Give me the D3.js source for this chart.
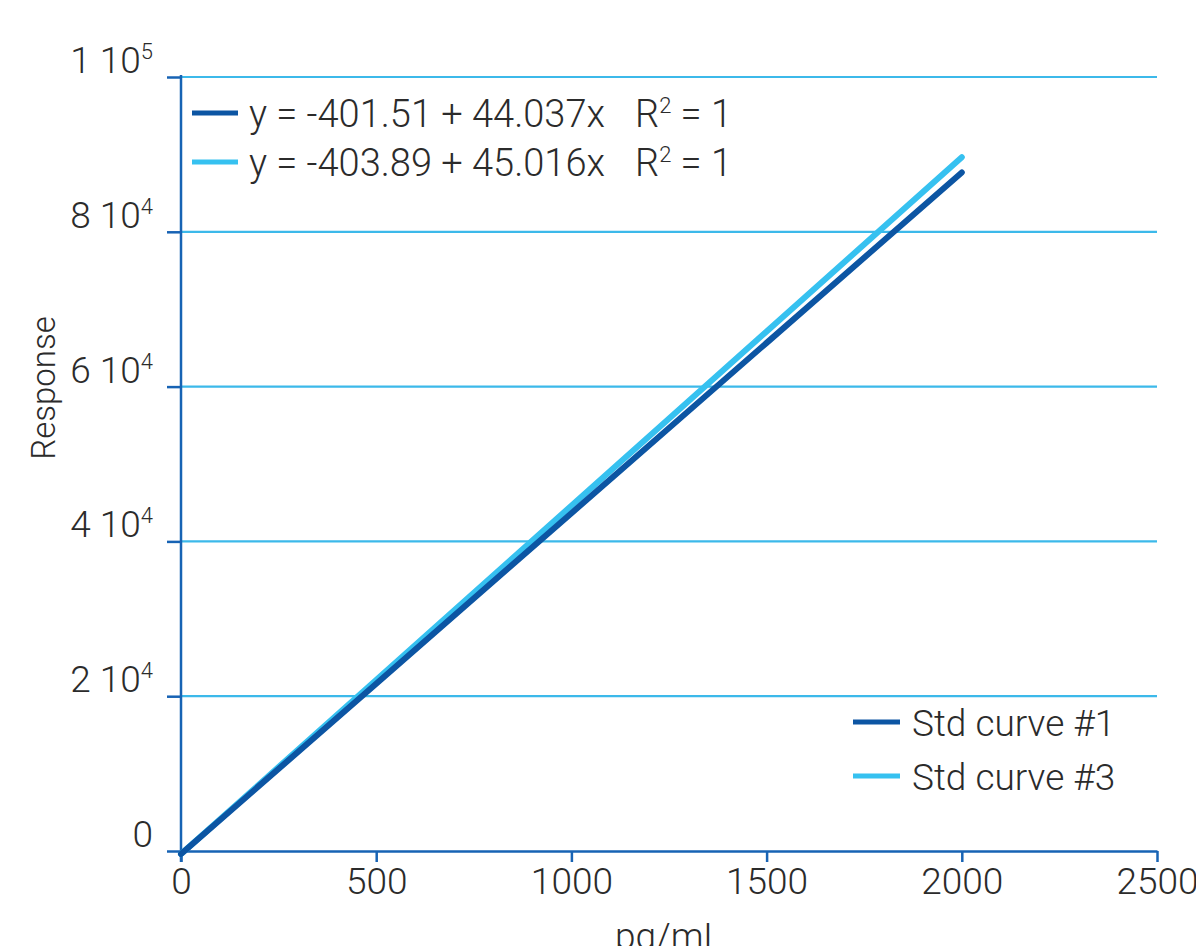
<!DOCTYPE html>
<html>
<head>
<meta charset="utf-8">
<script src="https://cdn.jsdelivr.net/npm/d3@7"></script>
<style>
  body { margin: 0; background: #fff; }
  text { font-family: Roboto, "Liberation Sans", sans-serif; font-weight: 300; fill: #2b2b2b; }
</style>
</head>
<body>
<div id="chart"></div>
<script>
// concentrations (pg/mL) and responses
var conc = [0, 500, 1000, 1500, 2000];
var curve1 = [-400, 21620, 43640, 65650, 87670];
var curve3 = [-400, 22110, 44610, 67120, 89630];
var seriesNames = ["Std curve #1", "Std curve #3"];
var equations = ["y = -401.51 + 44.037x", "y = -403.89 + 45.016x"];
var xTicks = [0, 500, 1000, 1500, 2000, 2500];
var yTicks = [0, 20000, 40000, 60000, 80000, 100000];
var yTickLabels = [["0", ""], ["2 10", "4"], ["4 10", "4"], ["6 10", "4"], ["8 10", "4"], ["1 10", "5"]];

var colors = ["#0c55a3", "#36c1f0"];
var axisColor = "#1763b4";
var gridColor = "#3cb9ea";

var W = 1196, H = 946;
var margin = {left: 181, top: 77, right: 39, bottom: 95};
var width = W - margin.left - margin.right;
var height = H - margin.top - margin.bottom;

var svg = d3.select("#chart").append("svg")
  .attr("width", W)
  .attr("height", H);

var g = svg.append("g")
  .attr("transform", "translate(" + margin.left + "," + margin.top + ")");

var x = d3.scaleLinear().domain([0, 2500]).range([0, width]);
var y = d3.scaleLinear().domain([0, 100000]).range([height, 0]);

// grid lines
g.selectAll(".grid")
  .data(yTicks.slice(1))
  .enter().append("line")
  .attr("class", "grid")
  .attr("x1", 0)
  .attr("x2", width)
  .attr("y1", function (d) { return y(d); })
  .attr("y2", function (d) { return y(d); })
  .style("stroke", gridColor)
  .style("stroke-width", 2.2);

// x axis
var xAxis = g.append("g")
  .attr("transform", "translate(0," + height + ")")
  .call(d3.axisBottom(x).tickValues(xTicks).tickSize(11).tickSizeOuter(0).tickFormat(d3.format("d")));
xAxis.select(".domain").style("stroke", axisColor).style("stroke-width", 2.5);
xAxis.selectAll(".tick line").style("stroke", axisColor).style("stroke-width", 2.5);
xAxis.selectAll(".tick text")
  .attr("y", 17)
  .style("font-size", "37px")
  .style("fill", "#2b2b2b")
  .style("font-family", "Roboto, sans-serif");

// y axis
var yAxis = g.append("g")
  .call(d3.axisLeft(y).tickValues(yTicks).tickSize(14).tickSizeOuter(0).tickFormat(""));
yAxis.select(".domain").attr("d", "M0," + (height + 11) + "V-2").style("stroke", axisColor).style("stroke-width", 2.5);
yAxis.selectAll(".tick line").style("stroke", axisColor).style("stroke-width", 2.5);

var yLab = g.selectAll(".ylab")
  .data(yTicks)
  .enter().append("text")
  .attr("class", "ylab")
  .attr("x", -28)
  .attr("y", function (d) { return y(d) - 4; })
  .attr("text-anchor", "end")
  .style("font-size", "37px");
yLab.append("tspan").text(function (d, i) { return yTickLabels[i][0]; });
yLab.append("tspan")
  .attr("dy", -14)
  .style("font-size", "22px")
  .text(function (d, i) { return yTickLabels[i][1]; });

// axis titles
g.append("text")
  .attr("transform", "translate(-126,311) rotate(-90)")
  .attr("text-anchor", "middle")
  .style("font-size", "33px")
  .text("Response");

g.append("text")
  .attr("x", width / 2)
  .attr("y", height + 98)
  .attr("text-anchor", "middle")
  .style("font-size", "37px")
  .text("pg/mL");

// curves
var line = d3.line()
  .x(function (d) { return x(d[0]); })
  .y(function (d) { return y(d[1]); });

[curve3, curve1].forEach(function (vals, k) {
  var idx = k === 0 ? 1 : 0;
  g.append("path")
    .datum(conc.map(function (c, i) { return [c, vals[i]]; }))
    .attr("d", line)
    .style("fill", "none")
    .style("stroke", colors[idx])
    .style("stroke-width", 6)
    .style("stroke-linecap", "round");
});

// equation legend (top left)
var eq = g.selectAll(".eq")
  .data(equations)
  .enter().append("g")
  .attr("class", "eq")
  .attr("transform", function (d, i) { return "translate(11," + (36 + i * 49) + ")"; });
eq.append("line")
  .attr("x1", 0).attr("x2", 46)
  .style("stroke", function (d, i) { return colors[i]; })
  .style("stroke-width", 5);
var eqText = eq.append("text")
  .attr("x", 57)
  .attr("y", 14)
  .style("font-size", "38px");
eqText.append("tspan").text(function (d) { return d; });
eqText.append("tspan").attr("x", 443).text("R");
eqText.append("tspan").attr("dy", -14).style("font-size", "22px").text("2");
eqText.append("tspan").attr("dy", 14).text(" = 1");

// series legend (bottom right)
var leg = g.selectAll(".leg")
  .data(seriesNames)
  .enter().append("g")
  .attr("class", "leg")
  .attr("transform", function (d, i) { return "translate(672," + (645 + i * 54) + ")"; });
leg.append("line")
  .attr("x1", 0).attr("x2", 47)
  .style("stroke", function (d, i) { return colors[i]; })
  .style("stroke-width", 5);
leg.append("text")
  .attr("x", 59)
  .attr("y", 14)
  .style("font-size", "37px")
  .text(function (d) { return d; });
</script>
</body>
</html>
